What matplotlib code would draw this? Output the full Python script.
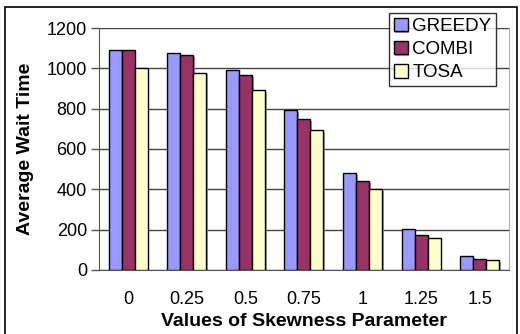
import numpy as np
import matplotlib.pyplot as plt
from matplotlib import patheffects as pe
from matplotlib.patches import Rectangle

plt.rcParams['font.family'] = ['Liberation Sans', 'DejaVu Sans']

skew_labels = ['0', '0.25', '0.5', '0.75', '1', '1.25', '1.5']
greedy = [1091, 1075, 990, 793, 481, 202, 68]
combi = [1091, 1066, 965, 747, 441, 175, 53]
tosa = [1000, 978, 893, 694, 400, 160, 48]

series = [('GREEDY', greedy, '#9999FF'),
          ('COMBI', combi, '#993366'),
          ('TOSA', tosa, '#FFFFCC')]

fig = plt.figure(figsize=(5.2, 3.34), dpi=100)
ax = fig.add_axes([0.190, 0.192, 0.789, 0.724])

x = np.arange(len(skew_labels))
w = 0.222
shadow = [pe.SimplePatchShadow(offset=(1.2, -1.2), shadow_rgbFace='#888888', alpha=0.8), pe.Normal()]
for i, (name, vals, col) in enumerate(series):
    ax.bar(x + (i - 1) * w, vals, width=w, color=col, edgecolor='black',
           linewidth=1.0, label=name, zorder=3, path_effects=shadow)

ax.set_xlim(-0.5, len(skew_labels) - 0.5)
ax.set_ylim(0, 1200)
ax.set_yticks(range(0, 1201, 200))
ax.set_xticks(x)
ax.set_xticklabels(skew_labels)
ax.yaxis.grid(True, color='#444444', linewidth=1.0, zorder=0)
ax.tick_params(axis='y', direction='out', length=5.5, width=1, color='#555555', labelsize=13, pad=3)
ax.tick_params(axis='x', length=0, labelsize=13, pad=15)
ax.spines['top'].set_visible(False)
ax.spines['left'].set_color('#555555')
ax.spines['right'].set_color('#aaaaaa')
ax.spines['bottom'].set_color('#555555')

ax.set_ylabel('Average Wait Time', fontsize=14, fontweight='bold', labelpad=9)
ax.set_xlabel('Values of Skewness Parameter', fontsize=14, fontweight='bold', labelpad=4)

leg = ax.legend(loc='upper right', bbox_to_anchor=(0.954, 0.961), bbox_transform=fig.transFigure,
                borderaxespad=0, frameon=True, fancybox=False,
                handlelength=0.75, handleheight=0.75, handletextpad=0.25, labelspacing=0.3,
                borderpad=0.25, fontsize=13.5)
leg.get_frame().set_edgecolor('black')
leg.get_frame().set_linewidth(1.0)
leg.set_zorder(5)

fig.patches.append(Rectangle((0.009, -0.05), 0.985, 1.028, transform=fig.transFigure,
                             fill=False, edgecolor='black', linewidth=1.2))

fig.savefig('out.png', dpi=100)
